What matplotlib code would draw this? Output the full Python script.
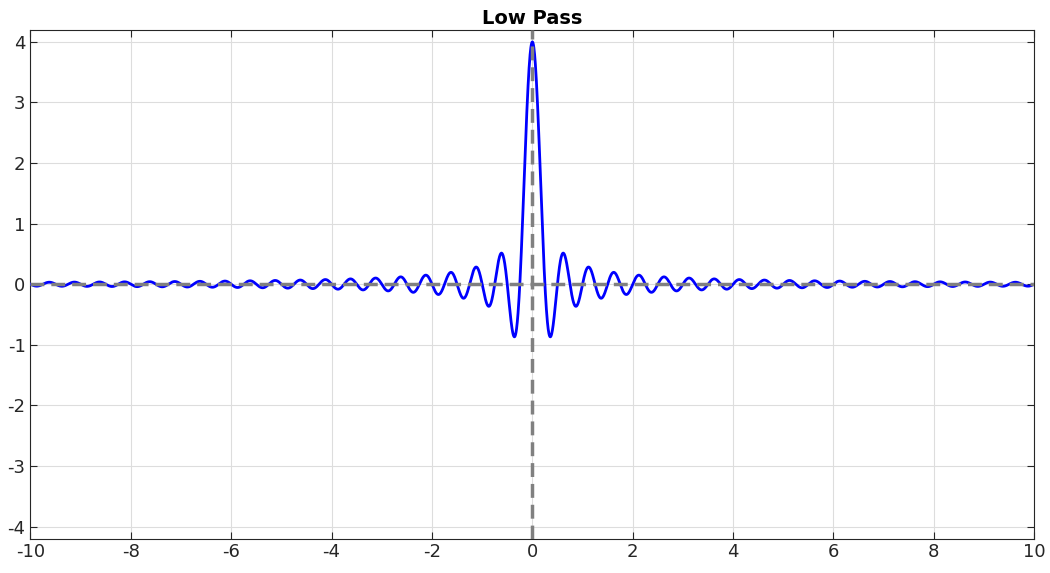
import numpy as np
import matplotlib
matplotlib.use("Agg")
import matplotlib.pyplot as plt

plt.rcParams["axes.unicode_minus"] = False

title = "Low Pass"
cutoff = 2.0          # cutoff frequency of the ideal low-pass filter
x_min, x_max = -10, 10
xticks = [-10, -8, -6, -4, -2, 0, 2, 4, 6, 8, 10]
yticks = [-4, -3, -2, -1, 0, 1, 2, 3, 4]

t = np.linspace(x_min, x_max, 4001)
h = 2 * cutoff * np.sinc(2 * cutoff * t)

fig = plt.figure(figsize=(10.5, 5.73), dpi=100)
ax = fig.add_axes([0.029, 0.06, 0.956, 0.888])
ax.plot(t, h, color="blue", lw=2, zorder=3)
ax.axhline(0, color="gray", ls="--", lw=2.5, zorder=4, dashes=(4, 2))
ax.axvline(0, color="gray", ls="--", lw=2.5, zorder=4, dashes=(4, 2))
ax.set_xlim(x_min, x_max)
ax.set_ylim(-4.2, 4.2)
ax.set_xticks(xticks)
ax.set_yticks(yticks)
ax.tick_params(labelsize=13, colors="#262626", direction="in", length=5,
               top=True, right=True)
ax.grid(True, color="#dddddd", lw=0.8)
for s in ax.spines.values():
    s.set_color("#262626")
ax.set_title(title, fontsize=14, fontweight="bold", pad=4)
fig.savefig("out.png", dpi=100)
